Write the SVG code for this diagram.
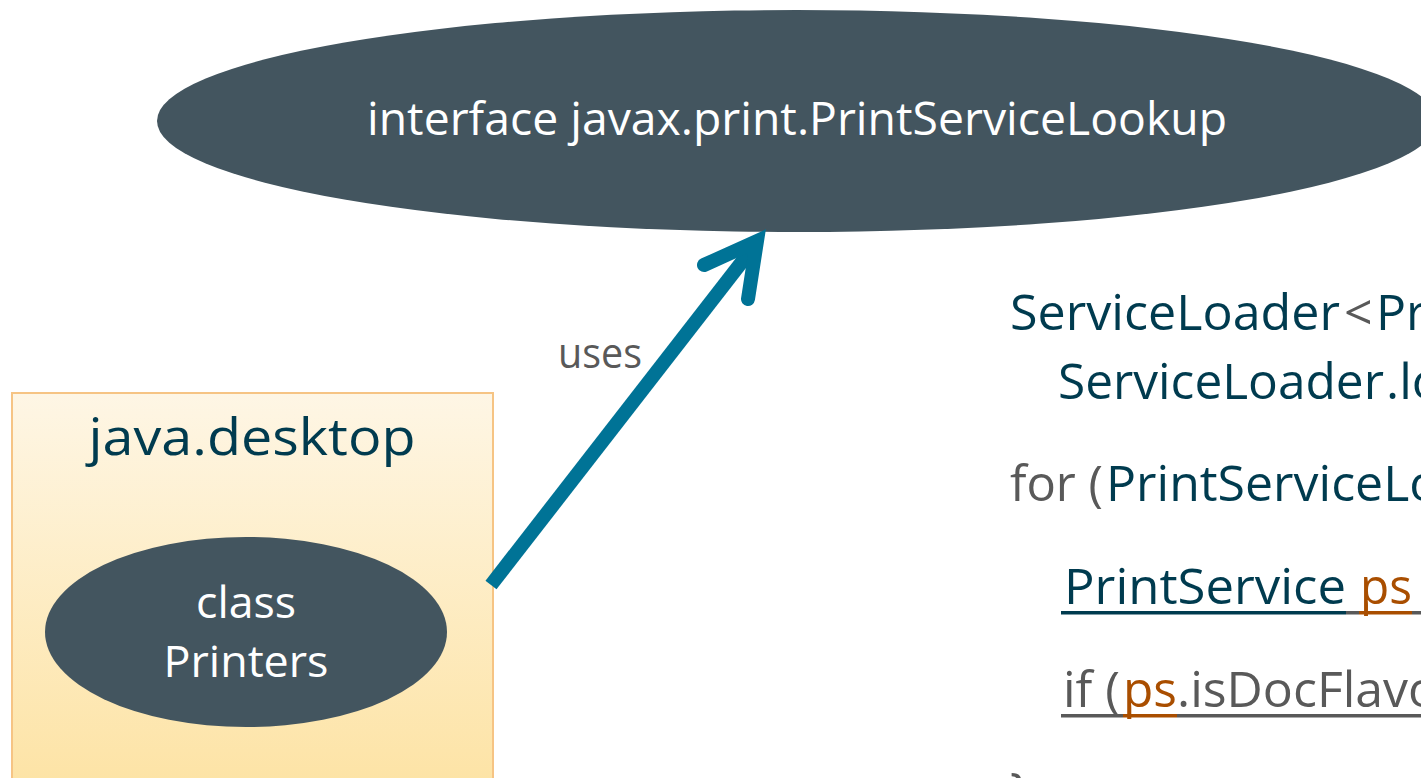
<svg xmlns="http://www.w3.org/2000/svg" width="1421" height="778" viewBox="0 0 1421 778">
<style>
text{font-family:"Open Sans","Noto Sans","Liberation Sans",sans-serif}
.node{fill:#43555F}
.wt{fill:#FFFFFF}
.teal{fill:#003B4F}
.grey{fill:#595959}
.orn{fill:#A94E00}
.code{font-size:50px}
</style>
<defs>
<linearGradient id="boxg" x1="0" y1="0" x2="0" y2="1">
<stop offset="0" stop-color="#FEF6E5"/>
<stop offset="1" stop-color="#FDE3A4"/>
</linearGradient>
</defs>
<rect width="1421" height="778" fill="#FFFFFF"/>
<g id="lookup">
<ellipse class="node" cx="797" cy="121" rx="640" ry="111"/>
<text class="wt" x="797" y="135" font-size="45" text-anchor="middle" textLength="860" lengthAdjust="spacingAndGlyphs">interface javax.print.PrintServiceLookup</text>
</g>
<g id="desktop">
<rect x="12" y="393" width="481" height="400" fill="url(#boxg)" stroke="#F6C484" stroke-width="2"/>
<text class="teal" x="252" y="455" font-size="52" text-anchor="middle" textLength="327" lengthAdjust="spacingAndGlyphs">java.desktop</text>
</g>
<g id="printers">
<ellipse class="node" cx="246" cy="632" rx="201" ry="95"/>
<text class="wt" x="246" y="618" font-size="44" text-anchor="middle" textLength="100" lengthAdjust="spacingAndGlyphs">class</text>
<text class="wt" x="246" y="677" font-size="44" text-anchor="middle" textLength="165" lengthAdjust="spacingAndGlyphs">Printers</text>
</g>
<g id="connectors">
<line x1="491" y1="585" x2="755" y2="245" stroke="#007396" stroke-width="14"/>
<polyline points="704,265 757,241 748,299" fill="none" stroke="#007396" stroke-width="14" stroke-linecap="round" stroke-linejoin="miter"/>
<text class="grey" x="600" y="368" font-size="42" text-anchor="middle" textLength="84" lengthAdjust="spacingAndGlyphs">uses</text>
</g>
<g id="code" class="code">
<text y="330"><tspan class="teal" x="1010" textLength="330" lengthAdjust="spacingAndGlyphs">ServiceLoader</tspan><tspan class="grey" x="1344">&lt;</tspan><tspan class="teal" x="1376">Pr</tspan></text>
<text y="399"><tspan class="teal" x="1058" textLength="326" lengthAdjust="spacingAndGlyphs">ServiceLoader</tspan><tspan class="teal" x="1386">.lo</tspan></text>
<text y="501"><tspan class="grey" x="1010" textLength="93" lengthAdjust="spacingAndGlyphs">for (</tspan><tspan class="teal" x="1106">PrintServiceLo</tspan></text>
<text y="604"><tspan class="teal" x="1064" textLength="282" lengthAdjust="spacingAndGlyphs">PrintService</tspan><tspan class="orn" x="1360" textLength="52" lengthAdjust="spacingAndGlyphs">ps</tspan><tspan class="grey" x="1425"> =</tspan></text>
<rect x="1061" y="611" width="285" height="3.5" fill="#003B4F"/>
<rect x="1346" y="611" width="13" height="3.5" fill="#595959"/>
<rect x="1359" y="611" width="53" height="3.5" fill="#A94E00"/>
<rect x="1412" y="611" width="9" height="3.5" fill="#595959"/>
<text y="707"><tspan class="grey" x="1063" textLength="57" lengthAdjust="spacingAndGlyphs">if (</tspan><tspan class="orn" x="1123" textLength="54" lengthAdjust="spacingAndGlyphs">ps</tspan><tspan class="grey" x="1177">.isDocFlavo</tspan></text>
<rect x="1061" y="714" width="62" height="3.5" fill="#595959"/>
<rect x="1123" y="714" width="54" height="3.5" fill="#A94E00"/>
<rect x="1177" y="714" width="244" height="3.5" fill="#595959"/>
<text y="808"><tspan class="grey" x="1010">}</tspan></text>
</g>
</svg>
